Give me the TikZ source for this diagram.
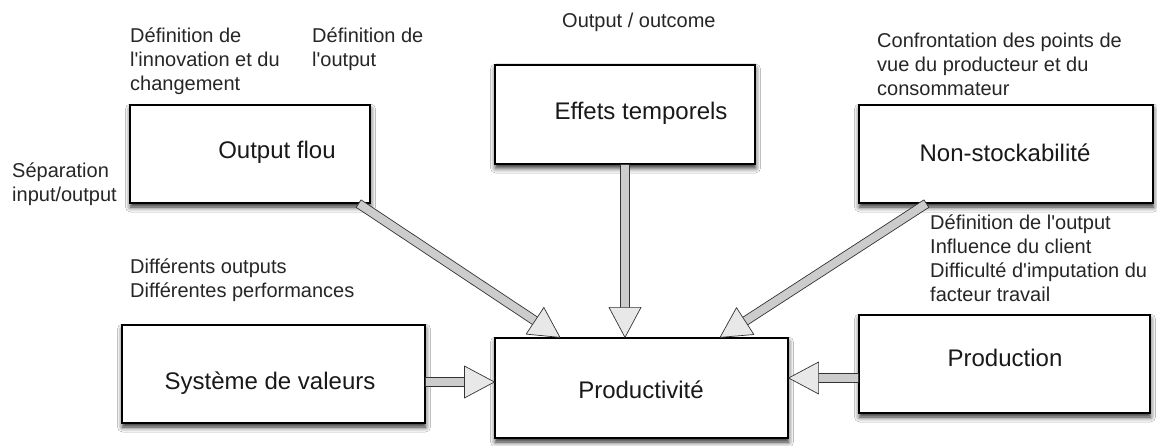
\documentclass[tikz,border=0pt]{standalone}
\usepackage{fontspec}
\setmainfont{Liberation Sans}[Ligatures=TeXOff]
\usetikzlibrary{calc,shadows.blur}
\tikzset{
  box/.style={draw=black, line width=1.2pt, fill=white, inner sep=0pt,
    blur shadow={shadow xshift=0.5pt, shadow yshift=-4pt, shadow blur radius=5pt, shadow opacity=85}},
  lbl/.style={font=\fontsize{24}{29}\selectfont, text=black!90, inner sep=0pt},
  note/.style={anchor=base west, align=left, inner sep=0pt,
    font=\fontsize{20}{24}\selectfont, text=black!85},
  shaft/.style={fill=gray!40, draw=black!80, line width=0.7pt, line join=round},
  head/.style={fill=gray!18, draw=black!80, line width=0.7pt, line join=round},
}
\newcommand\fatarrow[2]{%
  \filldraw[shaft] let \p1=(#1), \p2=(#2), \n1={atan2(\y2-\y1,\x2-\x1)}, \n2={veclen(\x2-\x1,\y2-\y1)} in
    {[shift={(\p1)}, rotate=\n1] (0pt,-4.5pt) -- (\n2-28pt,-4.5pt) -- (\n2-28pt,4.5pt) -- (0pt,4.5pt) -- cycle};
  \filldraw[head] let \p1=(#1), \p2=(#2), \n1={atan2(\y2-\y1,\x2-\x1)}, \n2={veclen(\x2-\x1,\y2-\y1)} in
    {[shift={(\p1)}, rotate=\n1] (\n2-30pt,-16pt) -- (\n2,0pt) -- (\n2-30pt,16pt) -- cycle};
}
\begin{document}
\begin{tikzpicture}[x=1pt,y=-1pt]
\useasboundingbox[fill=white] (0,0) rectangle (1157,446);

% boxes
\node[box, minimum width=240pt, minimum height=98pt] (of) at (250,154) {};
\node[box, minimum width=260pt, minimum height=99pt] (et) at (625,114.5) {};
\node[box, minimum width=294pt, minimum height=98pt] (ns) at (1006,154) {};
\node[box, minimum width=303pt, minimum height=98pt] (sv) at (273.5,374) {};
\node[box, minimum width=293pt, minimum height=100pt] (pr) at (641.5,388) {};
\node[box, minimum width=291pt, minimum height=98pt] (pd) at (1004.5,364) {};

% box labels
\node[lbl] (lof) at (277,152) {Output flou};
\node[lbl] (let) at (641,113) {Effets temporels};
\node[lbl] (lns) at (1005,153) {Non-stockabilit\'e};
\node[lbl] (lsv) at (270,383) {Syst\`eme de valeurs};
\node[lbl] (lpr) at (641,390) {Productivit\'e};
\node[lbl] (lpd) at (1005,358) {Production};

% annotations (anchor = baseline of last line)
\node[note] (n1) at (130,91) {Définition de\\l'innovation et du\\changement};
\node[note] (n2) at (312,67) {Définition de\\l'output};
\node[note] (n3) at (562,28) {Output / outcome};
\node[note] (n4) at (877,96) {Confrontation des points de\\vue du producteur et du\\consommateur};
\node[note] (n5) at (12,202) {Séparation\\input/output};
\node[note] (n6) at (130,298) {Différents outputs\\Différentes performances};
\node[note] (n7) at (930,302) {Définition de l'output\\Influence du client\\Difficulté d'imputation du\\facteur travail};

% connectors
\fatarrow{[xshift=-12pt]of.south east}{[xshift=-81.5pt]pr.north}
\fatarrow{et.south}{[xshift=-16.5pt]pr.north}
\fatarrow{[xshift=68pt]ns.south west}{[xshift=78.5pt]pr.north}
\fatarrow{[yshift=-8pt]sv.east}{[yshift=6pt]pr.west}
\fatarrow{[yshift=-14pt]pd.west}{[yshift=10pt]pr.east}
\end{tikzpicture}
\end{document}
